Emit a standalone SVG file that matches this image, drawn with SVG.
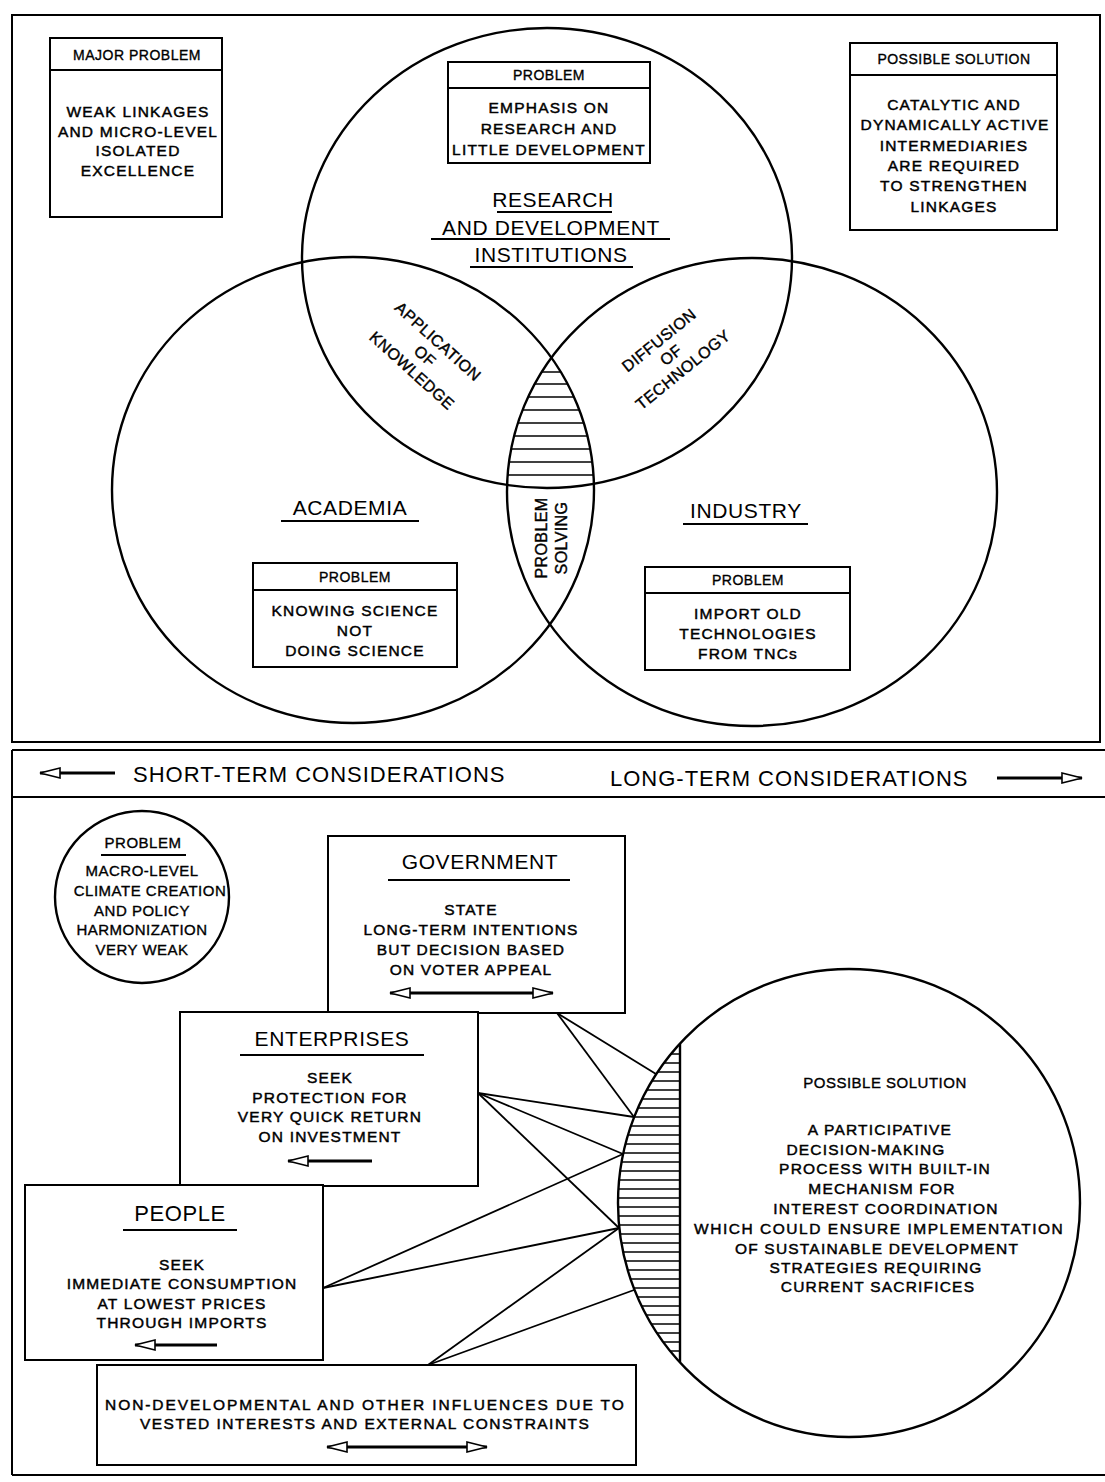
<svg xmlns="http://www.w3.org/2000/svg" width="1105" height="1482" viewBox="0 0 1105 1482">
  <style>
    text { font-family: "Liberation Sans", Arial, sans-serif; fill: #000; text-anchor: middle; }
    .hd { font-size: 14px; letter-spacing: 0.5px; stroke: #000; stroke-width: 0.35px; }
    .bd { font-size: 15.5px; letter-spacing: 1.2px; stroke: #000; stroke-width: 0.45px; }
    .big { font-size: 21px; letter-spacing: 0.6px; }
    .band { font-size: 22px; letter-spacing: 1px; text-anchor: start; }
    .rot { font-size: 16px; letter-spacing: 0.4px; stroke: #000; stroke-width: 0.4px; }
    .ln { fill: none; stroke: #000; stroke-width: 2; }
    .ring { fill: none; stroke: #000; stroke-width: 2.4; }
    .box { fill: #fff; stroke: #000; stroke-width: 2; }
    .hatch { stroke: #000; stroke-width: 1.6; }
    .arw { fill: none; stroke: #000; stroke-width: 3; }
    .con { stroke: #000; stroke-width: 1.8; fill: none; }
  </style>
  <defs>
    <marker id="head" markerUnits="userSpaceOnUse" viewBox="0 -7 24 14" markerWidth="24" markerHeight="14" refX="22" refY="0" orient="auto-start-reverse">
      <path d="M2,-5 L22,0 L2,5 Z" fill="#fff" stroke="#000" stroke-width="1.6"/>
    </marker>
    <clipPath id="cTop"><ellipse cx="547" cy="258" rx="245" ry="230"/></clipPath>
    <clipPath id="cLeft"><ellipse cx="353" cy="490" rx="241" ry="233"/></clipPath>
    <clipPath id="cRight"><ellipse cx="752" cy="492" rx="245" ry="234"/></clipPath>
    <clipPath id="cBig"><ellipse cx="849" cy="1203" rx="231" ry="234"/></clipPath>
  </defs>
  <rect width="1105" height="1482" fill="#fff"/>

  <!-- upper panel frame -->
  <rect class="ln" x="12" y="15" width="1088" height="727"/>

  <!-- three overlapping sectors -->
  <g id="venn">
    <ellipse class="ring" cx="547" cy="258" rx="245" ry="230"/>
    <ellipse class="ring" cx="353" cy="490" rx="241" ry="233"/>
    <ellipse class="ring" cx="752" cy="492" rx="245" ry="234"/>
    <!-- shared core: inside all three -->
    <g clip-path="url(#cTop)">
      <g clip-path="url(#cLeft)">
        <g clip-path="url(#cRight)" class="hatch">
          <line x1="480" y1="372" x2="620" y2="372"/>
          <line x1="480" y1="384" x2="620" y2="384"/>
          <line x1="480" y1="397" x2="620" y2="397"/>
          <line x1="480" y1="410" x2="620" y2="410"/>
          <line x1="480" y1="423" x2="620" y2="423"/>
          <line x1="480" y1="436" x2="620" y2="436"/>
          <line x1="480" y1="449" x2="620" y2="449"/>
          <line x1="480" y1="462" x2="620" y2="462"/>
          <line x1="480" y1="475" x2="620" y2="475"/>
        </g>
      </g>
    </g>
  </g>

  <g id="rd-label">
    <text class="big" x="553" y="207">RESEARCH</text>
    <text class="big" x="551" y="235">AND DEVELOPMENT</text>
    <text class="big" x="551" y="262">INSTITUTIONS</text>
    <line class="ln" x1="497" y1="212" x2="612" y2="212"/>
    <line class="ln" x1="431" y1="239" x2="670" y2="239"/>
    <line class="ln" x1="470" y1="267" x2="633" y2="267"/>
  </g>
  <g id="academia-label">
    <text class="big" x="350" y="515">ACADEMIA</text>
    <line class="ln" x1="281" y1="521" x2="419" y2="521"/>
  </g>
  <g id="industry-label">
    <text class="big" x="746" y="518">INDUSTRY</text>
    <line class="ln" x1="683" y1="524" x2="808" y2="524"/>
  </g>

  <g id="application" transform="translate(425,356) rotate(42)">
    <text class="rot" x="0" y="-14">APPLICATION</text>
    <text class="rot" x="0" y="5.5">OF</text>
    <text class="rot" x="0" y="25">KNOWLEDGE</text>
  </g>
  <g id="diffusion" transform="translate(671,355) rotate(-39)">
    <text class="rot" x="0" y="-13.5">DIFFUSION</text>
    <text class="rot" x="0" y="5.5">OF</text>
    <text class="rot" x="0" y="24.5">TECHNOLOGY</text>
  </g>
  <g id="problem-solving" transform="translate(552,538) rotate(-90)">
    <text class="rot" x="0" y="-5">PROBLEM</text>
    <text class="rot" x="0" y="15">SOLVING</text>
  </g>

  <g id="major-problem">
    <rect class="box" x="50" y="38" width="172" height="179"/>
    <line class="ln" x1="50" y1="70" x2="222" y2="70"/>
    <text class="hd" x="137" y="60">MAJOR PROBLEM</text>
    <text class="bd" x="138" y="117">WEAK LINKAGES</text>
    <text class="bd" x="138" y="137">AND MICRO-LEVEL</text>
    <text class="bd" x="138" y="156">ISOLATED</text>
    <text class="bd" x="138" y="176">EXCELLENCE</text>
  </g>

  <g id="rd-problem">
    <rect class="box" x="448" y="62" width="202" height="101"/>
    <line class="ln" x1="448" y1="88" x2="650" y2="88"/>
    <text class="hd" x="549" y="80">PROBLEM</text>
    <text class="bd" x="549" y="113">EMPHASIS ON</text>
    <text class="bd" x="549" y="134">RESEARCH AND</text>
    <text class="bd" x="549" y="155">LITTLE DEVELOPMENT</text>
  </g>

  <g id="possible-solution-top">
    <rect class="box" x="850" y="43" width="207" height="187"/>
    <line class="ln" x1="850" y1="75" x2="1057" y2="75"/>
    <text class="hd" x="954" y="64">POSSIBLE SOLUTION</text>
    <text class="bd" x="954" y="110">CATALYTIC AND</text>
    <text class="bd" x="955" y="130">DYNAMICALLY ACTIVE</text>
    <text class="bd" x="954" y="151">INTERMEDIARIES</text>
    <text class="bd" x="954" y="171">ARE REQUIRED</text>
    <text class="bd" x="954" y="191">TO STRENGTHEN</text>
    <text class="bd" x="954" y="212">LINKAGES</text>
  </g>

  <g id="academia-problem">
    <rect class="box" x="253" y="563" width="204" height="104"/>
    <line class="ln" x1="253" y1="590" x2="457" y2="590"/>
    <text class="hd" x="355" y="582">PROBLEM</text>
    <text class="bd" x="355" y="616">KNOWING SCIENCE</text>
    <text class="bd" x="355" y="636">NOT</text>
    <text class="bd" x="355" y="656">DOING SCIENCE</text>
  </g>

  <g id="industry-problem">
    <rect class="box" x="645" y="567" width="205" height="103"/>
    <line class="ln" x1="645" y1="593" x2="850" y2="593"/>
    <text class="hd" x="748" y="585">PROBLEM</text>
    <text class="bd" x="748" y="619">IMPORT OLD</text>
    <text class="bd" x="748" y="639">TECHNOLOGIES</text>
    <text class="bd" x="748" y="659">FROM TNCs</text>
  </g>

  <!-- lower panel frame and time-horizon band -->
  <g id="lower-frame">
    <line class="ln" x1="12" y1="750" x2="1105" y2="750"/>
    <line class="ln" x1="12" y1="797" x2="1105" y2="797"/>
    <line class="ln" x1="12" y1="750" x2="12" y2="1475"/>
    <line class="ln" x1="12" y1="1475" x2="1105" y2="1475"/>
  </g>
  <g id="short-term">
    <line class="arw" x1="115" y1="773" x2="40" y2="773" marker-end="url(#head)"/>
    <text class="band" x="133" y="782">SHORT-TERM CONSIDERATIONS</text>
  </g>
  <g id="long-term">
    <text class="band" x="610" y="786">LONG-TERM CONSIDERATIONS</text>
    <line class="arw" x1="997" y1="778" x2="1082" y2="778" marker-end="url(#head)"/>
  </g>

  <g id="macro-problem">
    <ellipse class="ring" cx="142" cy="897" rx="87" ry="86"/>
    <text class="hd" x="143" y="848" style="font-size:15px">PROBLEM</text>
    <line class="ln" x1="101" y1="855" x2="186" y2="855"/>
    <text class="hd" x="142" y="876" style="font-size:15px">MACRO-LEVEL</text>
    <text class="hd" x="150" y="896" style="font-size:15px">CLIMATE CREATION</text>
    <text class="hd" x="142" y="916" style="font-size:15px">AND POLICY</text>
    <text class="hd" x="142" y="935" style="font-size:15px">HARMONIZATION</text>
    <text class="hd" x="142" y="955" style="font-size:15px">VERY WEAK</text>
  </g>

  <!-- connectors from the actors to the participative process -->
  <g id="connectors" class="con">
    <line x1="557" y1="1013" x2="656" y2="1074"/>
    <line x1="557" y1="1013" x2="634" y2="1117"/>
    <line x1="478" y1="1093" x2="634" y2="1117"/>
    <line x1="478" y1="1093" x2="623" y2="1154"/>
    <line x1="478" y1="1093" x2="619" y2="1228"/>
    <line x1="323" y1="1288" x2="623" y2="1154"/>
    <line x1="323" y1="1288" x2="619" y2="1228"/>
    <line x1="428" y1="1365" x2="619" y2="1228"/>
    <line x1="428" y1="1365" x2="634" y2="1290"/>
  </g>

  <g id="government">
    <rect class="box" x="328" y="836" width="297" height="177"/>
    <text class="big" x="480" y="869">GOVERNMENT</text>
    <line class="ln" x1="388" y1="880" x2="570" y2="880"/>
    <text class="bd" x="471" y="915">STATE</text>
    <text class="bd" x="471" y="935">LONG-TERM INTENTIONS</text>
    <text class="bd" x="471" y="955">BUT DECISION BASED</text>
    <text class="bd" x="471" y="975">ON VOTER APPEAL</text>
    <line class="arw" x1="390" y1="993" x2="553" y2="993" marker-start="url(#head)" marker-end="url(#head)"/>
  </g>

  <g id="enterprises">
    <rect class="box" x="180" y="1012" width="298" height="174"/>
    <text class="big" x="332" y="1046">ENTERPRISES</text>
    <line class="ln" x1="240" y1="1055" x2="424" y2="1055"/>
    <text class="bd" x="330" y="1083">SEEK</text>
    <text class="bd" x="330" y="1103">PROTECTION FOR</text>
    <text class="bd" x="330" y="1122">VERY QUICK RETURN</text>
    <text class="bd" x="330" y="1142">ON INVESTMENT</text>
    <line class="arw" x1="372" y1="1161" x2="288" y2="1161" marker-end="url(#head)"/>
  </g>

  <g id="people">
    <rect class="box" x="25" y="1185" width="298" height="175"/>
    <text class="big" x="180" y="1221" style="font-size:22px">PEOPLE</text>
    <line class="ln" x1="123" y1="1230" x2="237" y2="1230"/>
    <text class="bd" x="182" y="1270">SEEK</text>
    <text class="bd" x="182" y="1289">IMMEDIATE CONSUMPTION</text>
    <text class="bd" x="182" y="1309">AT LOWEST PRICES</text>
    <text class="bd" x="182" y="1328">THROUGH IMPORTS</text>
    <line class="arw" x1="217" y1="1345" x2="135" y2="1345" marker-end="url(#head)"/>
  </g>

  <g id="external-influences">
    <rect class="box" x="97" y="1365" width="539" height="100"/>
    <text class="bd" x="365" y="1410" textLength="520" lengthAdjust="spacing">NON-DEVELOPMENTAL AND OTHER INFLUENCES DUE TO</text>
    <text class="bd" x="365" y="1429" textLength="450" lengthAdjust="spacing">VESTED INTERESTS AND EXTERNAL CONSTRAINTS</text>
    <line class="arw" x1="327" y1="1447" x2="487" y2="1447" marker-start="url(#head)" marker-end="url(#head)"/>
  </g>

  <g id="participative-solution">
    <ellipse class="ring" cx="849" cy="1203" rx="231" ry="234" fill="none"/>
    <g clip-path="url(#cBig)" class="hatch">
      <line x1="610" y1="1054" x2="680" y2="1054"/>
      <line x1="610" y1="1063" x2="680" y2="1063"/>
      <line x1="610" y1="1072" x2="680" y2="1072"/>
      <line x1="610" y1="1081" x2="680" y2="1081"/>
      <line x1="610" y1="1090" x2="680" y2="1090"/>
      <line x1="610" y1="1099" x2="680" y2="1099"/>
      <line x1="610" y1="1108" x2="680" y2="1108"/>
      <line x1="610" y1="1117" x2="680" y2="1117"/>
      <line x1="610" y1="1126" x2="680" y2="1126"/>
      <line x1="610" y1="1135" x2="680" y2="1135"/>
      <line x1="610" y1="1144" x2="680" y2="1144"/>
      <line x1="610" y1="1153" x2="680" y2="1153"/>
      <line x1="610" y1="1162" x2="680" y2="1162"/>
      <line x1="610" y1="1171" x2="680" y2="1171"/>
      <line x1="610" y1="1180" x2="680" y2="1180"/>
      <line x1="610" y1="1189" x2="680" y2="1189"/>
      <line x1="610" y1="1198" x2="680" y2="1198"/>
      <line x1="610" y1="1207" x2="680" y2="1207"/>
      <line x1="610" y1="1216" x2="680" y2="1216"/>
      <line x1="610" y1="1225" x2="680" y2="1225"/>
      <line x1="610" y1="1234" x2="680" y2="1234"/>
      <line x1="610" y1="1243" x2="680" y2="1243"/>
      <line x1="610" y1="1252" x2="680" y2="1252"/>
      <line x1="610" y1="1261" x2="680" y2="1261"/>
      <line x1="610" y1="1270" x2="680" y2="1270"/>
      <line x1="610" y1="1279" x2="680" y2="1279"/>
      <line x1="610" y1="1288" x2="680" y2="1288"/>
      <line x1="610" y1="1297" x2="680" y2="1297"/>
      <line x1="610" y1="1306" x2="680" y2="1306"/>
      <line x1="610" y1="1315" x2="680" y2="1315"/>
      <line x1="610" y1="1324" x2="680" y2="1324"/>
      <line x1="610" y1="1333" x2="680" y2="1333"/>
      <line x1="610" y1="1342" x2="680" y2="1342"/>
      <line x1="610" y1="1351" x2="680" y2="1351"/>
    </g>
    <line class="ln" x1="680" y1="1044" x2="680" y2="1362" style="stroke-width:2.4"/>
    <text class="hd" x="885" y="1088" style="font-size:15px">POSSIBLE SOLUTION</text>
    <text class="bd" x="880" y="1135">A PARTICIPATIVE</text>
    <text class="bd" x="866" y="1155">DECISION-MAKING</text>
    <text class="bd" x="885" y="1174">PROCESS WITH BUILT-IN</text>
    <text class="bd" x="882" y="1194">MECHANISM FOR</text>
    <text class="bd" x="886" y="1214">INTEREST COORDINATION</text>
    <text class="bd" x="879" y="1234" textLength="370" lengthAdjust="spacing">WHICH COULD ENSURE IMPLEMENTATION</text>
    <text class="bd" x="877" y="1254">OF SUSTAINABLE DEVELOPMENT</text>
    <text class="bd" x="876" y="1273">STRATEGIES REQUIRING</text>
    <text class="bd" x="878" y="1292">CURRENT SACRIFICES</text>
  </g>
</svg>
